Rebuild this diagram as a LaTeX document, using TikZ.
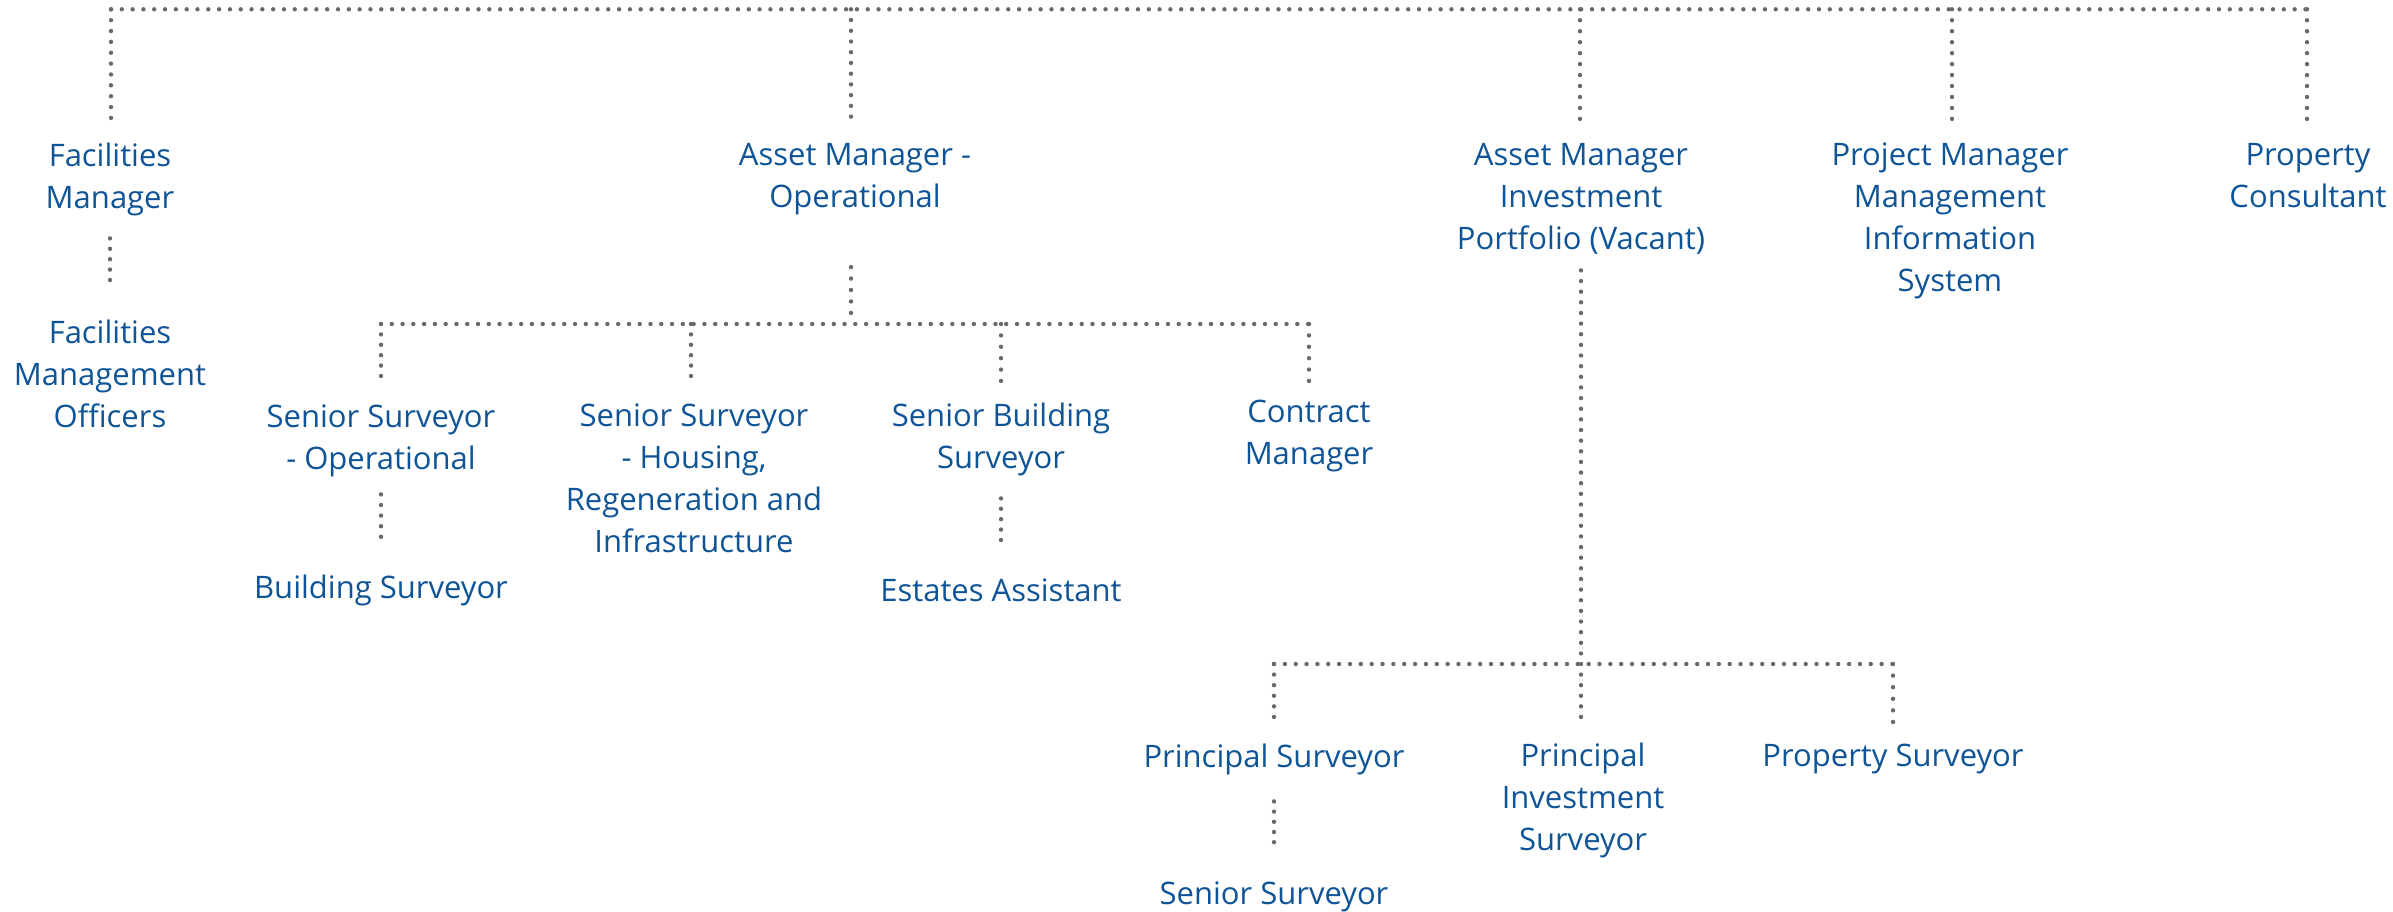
\documentclass[tikz,border=0pt]{standalone}
\usepackage{fontspec}
\setmainfont{Open Sans}
\definecolor{txt}{RGB}{14,84,150}
\definecolor{dotc}{RGB}{105,105,105}
\newcommand{\ts}{\rule{0pt}{29.4pt}}
\newcommand{\bs}{\rule[-12.6pt]{0pt}{12.6pt}}
\begin{document}
\begin{tikzpicture}[x=1pt,y=-1pt,
  role/.style={font=\fontsize{31}{42}\selectfont, text=txt, align=center, inner sep=0pt, anchor=north},
  dots/.style={draw=dotc, line width=4.4pt, line cap=round, dash pattern=on 0pt off #1pt},
  dots/.default=10.8]
\useasboundingbox (0,0) rectangle (2393,911);

% nodes
\node[role] (fm)  at (110,136.6)  {\ts Facilities\\Manager\bs};
\node[role] (fmo) at (110,313.6)  {\ts Facilities\\Management\\Officers\bs};
\node[role] (amo) at (855,136.1)  {\ts Asset Manager -\\Operational\bs};
\node[role] (ami) at (1581,136.1) {\ts Asset Manager\\Investment\\Portfolio (Vacant)\bs};
\node[role] (pm)  at (1950,136.1) {\ts Project Manager\\Management\\Information\\System\bs};
\node[role] (pc)  at (2308,136.1) {\ts Property\\Consultant\bs};
\node[role] (sso) at (381,397.6)  {\ts Senior Surveyor\\- Operational\bs};
\node[role] (ssh) at (694,396.6)  {\ts Senior Surveyor\\- Housing,\\Regeneration and\\Infrastructure\bs};
\node[role] (sbs) at (1001,396.6) {\ts Senior Building\\Surveyor\bs};
\node[role] (cm)  at (1309,392.6) {\ts Contract\\Manager\bs};
\node[role] (bu)  at (381,568.6)  {\ts Building Surveyor\bs};
\node[role] (ea)  at (1001,571.6) {\ts Estates Assistant\bs};
\node[role] (ps)  at (1274,737.6) {\ts Principal Surveyor\bs};
\node[role] (pis) at (1583,736.6) {\ts Principal\\Investment\\Surveyor\bs};
\node[role] (prs) at (1893,737.1) {\ts Property Surveyor\bs};
\node[role] (ss)  at (1274,874.6) {\ts Senior Surveyor\bs};

% top bus
\coordinate (tL) at (111,9.3);
\coordinate (tR) at (2307,9.3);
\coordinate (jamo) at (851,9.3);
\coordinate (jami) at (1580,9.3);
\coordinate (jpm) at (1952,9.3);
\draw[dots=10.81] (tL) -- (tR);
\draw[dots=10.86, shorten >=18.6pt] (tL) -- (tL |- fm.north);
\draw[dots=10.73, shorten >=19.4pt] (jamo) -- (jamo |- amo.north);
\draw[dots=10.96, shorten >=17.1pt] (jami) -- (jami |- ami.north);
\draw[dots=10.96, shorten >=17.1pt] (jpm) -- (jpm |- pm.north);
\draw[dots=10.96, shorten >=17.1pt] (tR) -- (tR |- pc.north);

\draw[dots=10.39, shorten <=17.4pt, shorten >=23.6pt] (fm.south) -- (fmo.north);

% operational bus
\coordinate (bL) at (381,324);
\coordinate (bR) at (1309,324);
\coordinate (jb) at (851,324);
\coordinate (jssh) at (691,324);
\coordinate (jsbs) at (1001,324);
\draw[dots=11.45, shorten <=46.6pt] (jb |- amo.south) -- (jb);
\draw[dots=10.78] (bL) -- (bR);
\draw[dots=10.39, shorten >=21.6pt] (bL) -- (bL |- sso.north);
\draw[dots=10.39, shorten >=20.6pt] (jssh) -- (jssh |- ssh.north);
\draw[dots=11.39, shorten >=15.6pt] (jsbs) -- (jsbs |- sbs.north);
\draw[dots=11.39, shorten >=11.6pt] (bR) -- (bR |- cm.north);
\draw[dots=10.59, shorten <=12.4pt, shorten >=21.6pt] (sso.south) -- (bu.north);
\draw[dots=10.39, shorten <=17.4pt, shorten >=21.6pt] (sbs.south) -- (ea.north);

% investment bus
\coordinate (cL) at (1274,664);
\coordinate (cR) at (1893,664);
\coordinate (jc) at (1581,664);
\draw[dots=10.64, shorten <=7.9pt] (jc |- ami.south) -- (jc);
\draw[dots=10.85] (cL) -- (cR);
\draw[dots=10.59, shorten >=20.6pt] (cL) -- (cL |- ps.north);
\draw[dots=10.59, shorten >=19.6pt] (jc) -- (jc |- pis.north);
\draw[dots=11.59, shorten >=15pt] (cR) -- (cR |- prs.north);
\draw[dots=10.19, shorten <=21.4pt, shorten >=22.6pt] (ps.south) -- (ss.north);
\end{tikzpicture}
\end{document}
